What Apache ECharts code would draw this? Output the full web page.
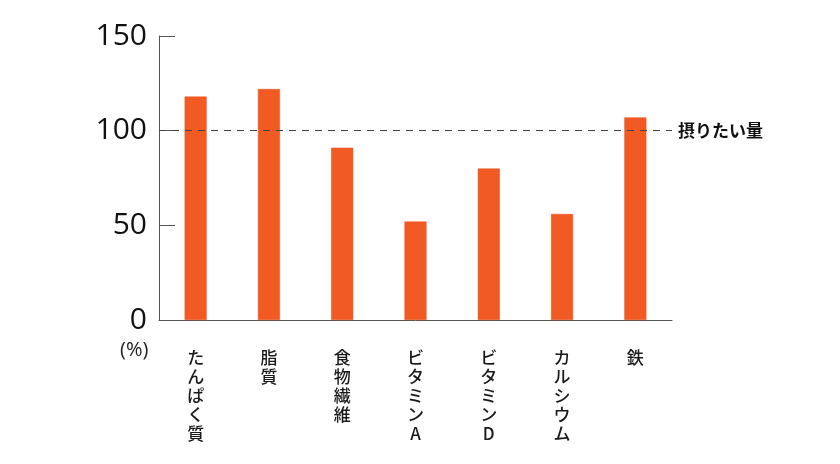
<!DOCTYPE html>
<html><head><meta charset="utf-8">
<script src="https://cdn.jsdelivr.net/npm/echarts@6/dist/echarts.min.js"></script>
<style>html,body{margin:0;padding:0;background:#fff}#c{width:840px;height:464px}</style>
</head><body><div id="c"></div>
<script>
const categories = ['たんぱく質','脂質','食物繊維','ビタミンA','ビタミンD','カルシウム','鉄'];
const values = [118, 122, 91, 52, 80, 56, 107];
const yTicks = [0, 50, 100, 150];
const targetValue = 100;
const targetLabel = '摂りたい量';
const unitLabel = '(%)';

const chart = echarts.init(document.getElementById('c'));
chart.setOption({
  animation: false,
  grid: {left: 159, right: 168, top: 36, bottom: 144},
  xAxis: {
    type: 'category', data: categories, boundaryGap: true,
    axisLine: {lineStyle: {color: '#555', width: 1}},
    axisTick: {inside: true, length: 9, lineStyle: {color: '#555'}},
    axisLabel: {
      interval: 0, margin: 28, fontSize: 17, lineHeight: 19, color: '#1a1a1a', fontWeight: 500,
      fontFamily: 'Noto Sans CJK JP', verticalAlign: 'top',
      formatter: v => v.split('').join('\n')
    }
  },
  yAxis: {
    type: 'value', min: yTicks[0], max: yTicks[yTicks.length-1], interval: 50,
    axisLine: {show: true, lineStyle: {color: '#555', width: 1}},
    axisTick: {show: true, inside: true, length: 16, lineStyle: {color: '#555'}},
    splitLine: {show: false},
    axisLabel: {fontSize: 30, color: '#111', margin: 12, fontFamily: 'Open Sans'}
  },
  series: [{
    type: 'bar', data: values, barWidth: 22,
    itemStyle: {color: '#F25A24', borderColor: '#E8501C', borderWidth: 0.5},
    markLine: {
      silent: true, symbol: 'none',
      lineStyle: {type: [7, 6], color: '#444', width: 1},
      label: {position: 'end', formatter: targetLabel, fontSize: 17, fontWeight: 'bold', color: '#111', fontFamily: 'Noto Sans CJK JP', distance: 6},
      data: [{yAxis: targetValue}]
    }
  }],
  graphic: [{type: 'text', left: 120, top: 340, style: {text: unitLabel, fontSize: 20, fill: '#222', fontFamily: 'Open Sans'}}]
});
</script></body></html>
